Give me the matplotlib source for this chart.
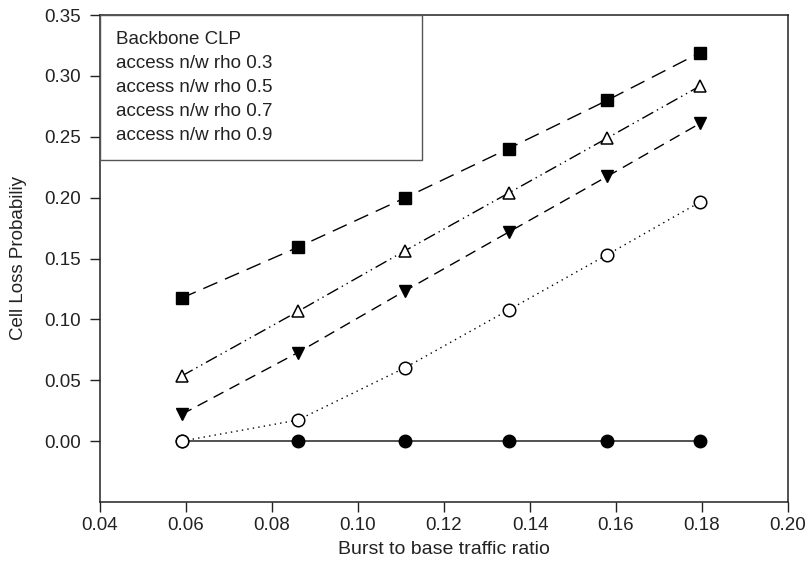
import numpy as np
import matplotlib
matplotlib.use('Agg')
import matplotlib.pyplot as plt

plt.rcParams['font.family'] = ['Liberation Sans', 'DejaVu Sans']

# data
ratio = [0.059, 0.086, 0.111, 0.135, 0.158, 0.1795]
backbone = [0.0, 0.0, 0.0, 0.0, 0.0, 0.0]
rho_03 = [0.0, 0.0173, 0.0604, 0.1077, 0.1532, 0.1963]
rho_05 = [0.022, 0.0727, 0.1236, 0.1716, 0.2175, 0.2609]
rho_07 = [0.0535, 0.1065, 0.1565, 0.2037, 0.249, 0.2916]
rho_09 = [0.1175, 0.1592, 0.1999, 0.2403, 0.280, 0.319]

labels = ['Backbone CLP', 'access n/w rho 0.3', 'access n/w rho 0.5',
          'access n/w rho 0.7', 'access n/w rho 0.9']
x_ticks = [0.04, 0.06, 0.08, 0.10, 0.12, 0.14, 0.16, 0.18, 0.20]
y_ticks = [0.0, 0.05, 0.10, 0.15, 0.20, 0.25, 0.30, 0.35]

W, H = 807, 563
L, R, T, B = 100, 788, 15, 502

fig = plt.figure(figsize=(W / 100, H / 100), dpi=100)
ax = fig.add_axes([L / W, 1 - B / H, (R - L) / W, (B - T) / H])

handles = []
h, = ax.plot(ratio, backbone, '-', color='#333333', lw=1.2, marker='o', ms=9,
             mfc='black', mec='black', zorder=3)
handles.append(h)
h, = ax.plot(ratio, rho_03, color='black', lw=1, dashes=(1, 3), marker='o', ms=9,
             mfc='white', mec='black', mew=1.1, zorder=4)
handles.append(h)
h, = ax.plot(ratio, rho_05, color='black', lw=1, dashes=(8, 5), marker='v', ms=9,
             mfc='black', mec='black')
handles.append(h)
h, = ax.plot(ratio, rho_07, color='black', lw=1, dashes=(9, 3, 1, 3, 1, 3), marker='^',
             ms=9, mfc='white', mec='black', mew=1.1)
handles.append(h)
h, = ax.plot(ratio, rho_09, color='black', lw=1, dashes=(11, 6), marker='s', ms=8,
             mfc='black', mec='black')
handles.append(h)

ax.set_xlim(0.04, 0.20)
ax.set_ylim(-0.05, 0.35)
ax.set_xticks(x_ticks)
ax.set_yticks(y_ticks)
ax.xaxis.set_major_formatter(matplotlib.ticker.FormatStrFormatter('%.2f'))
ax.yaxis.set_major_formatter(matplotlib.ticker.FormatStrFormatter('%.2f'))
ax.tick_params(direction='out', length=7, width=1, labelsize=13.5, color='#222222',
               labelcolor='#222222')
ax.tick_params(axis='y', pad=7)
ax.tick_params(axis='x', pad=4)
for s in ax.spines.values():
    s.set_color('#222222')
    s.set_linewidth(1.1)

ax.set_xlabel('Burst to base traffic ratio', fontsize=14, labelpad=5, color='#222222')
ax.set_ylabel('Cell Loss Probabiliy', fontsize=13.5, labelpad=12, color='#222222')

leg = ax.legend(handles, labels, loc='upper left', bbox_to_anchor=(0, 0, (422 - L) / (R - L), 1),
                mode='expand', borderaxespad=0, handlelength=0, handletextpad=0,
                fontsize=13.5, labelspacing=0.36, borderpad=0.85, fancybox=False,
                framealpha=1, edgecolor='#555555')
leg.get_frame().set_linewidth(1)
for lh in leg.legend_handles:
    lh.set_visible(False)
for t in leg.get_texts():
    t.set_color('#222222')

fig.savefig('out.png', dpi=100)
